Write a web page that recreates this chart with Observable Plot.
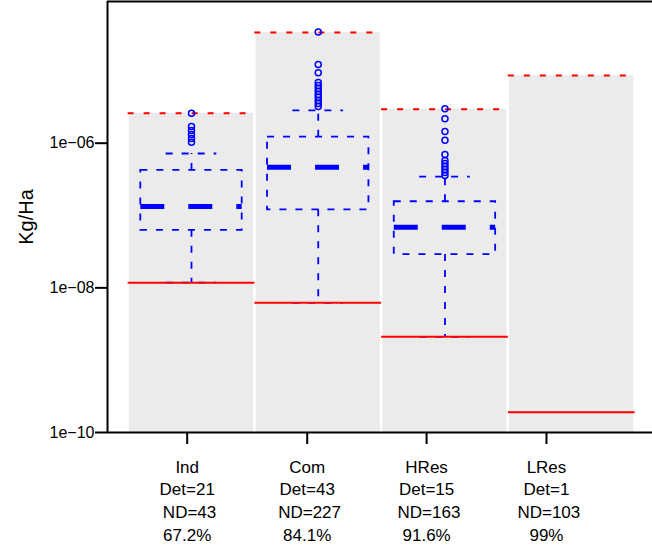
<!DOCTYPE html>
<html><head><meta charset="utf-8">
<script src="https://cdn.jsdelivr.net/npm/d3@7"></script>
<script src="https://cdn.jsdelivr.net/npm/@observablehq/plot@0.6"></script>
<style>
html,body{margin:0;padding:0;background:#fff;}
svg text{white-space:pre;}
</style></head><body><div id="chart"></div>
<script>
// ---- data ----
const categories = ["Ind", "Com", "HRes", "LRes"];
const positions = [1, 2, 3, 4];
const labelPositions = [0.966, 1.913, 2.855, 3.801];
const detected = [21, 43, 15, 1];
const nonDetected = [43, 227, 163, 103];
const percentND = ["67.2%", "84.1%", "91.6%", "99%"];
const maxValue = [2.6e-6, 3.4e-5, 2.95e-6, 8.65e-6];
const minValue = [1.18e-8, 6.2e-9, 2.1e-9, 1.9e-10];

const boxCategories = ["Ind", "Com", "HRes"];
const boxPositions = [1, 2, 3];
const whiskerLow = [1.18e-8, 6.2e-9, 2.1e-9];
const q1 = [6.25e-8, 1.2e-7, 2.88e-8];
const median = [1.33e-7, 4.66e-7, 6.88e-8];
const q3 = [4.2e-7, 1.21e-6, 1.55e-7];
const whiskerHigh = [7.2e-7, 2.84e-6, 3.46e-7];

const outliersInd = [2.6e-6, 1.7e-6, 1.5e-6, 1.32e-6, 1.16e-6, 1.03e-6];
const outliersCom = [3.44e-5, 1.22e-5, 9.4e-6, 6.9e-6, 6.3e-6, 5.7e-6, 5.2e-6, 4.7e-6, 4.3e-6, 3.9e-6, 3.54e-6, 3.22e-6];
const outliersHRes = [2.99e-6, 2.18e-6, 1.45e-6, 1.1e-6, 6.98e-7, 5.77e-7, 5.24e-7, 4.76e-7, 4.33e-7, 3.94e-7, 3.57e-7];

const yTicks = [1e-6, 1e-8, 1e-10];
const yTickLabels = ["1e\u221206", "1e\u221208", "1e\u221210"];
const yDomain = [1e-10, 9.1e-5];
const xDomain = [0.3372, 4.6376];

// ---- tables ----
const cats = categories.map((c, i) => ({cat: c, pos: positions[i], max: maxValue[i], min: minValue[i]}));
const boxes = boxCategories.map((c, i) => ({cat: c, pos: boxPositions[i], lo: whiskerLow[i], q1: q1[i], med: median[i], q3: q3[i], hi: whiskerHigh[i]}));
const outliers = [
  ...outliersInd.map(v => ({pos: 1, value: v})),
  ...outliersCom.map(v => ({pos: 2, value: v})),
  ...outliersHRes.map(v => ({pos: 3, value: v}))
];
const xLabels = categories.map((c, i) => `${c}\nDet=${detected[i]}\n ND=${nonDetected[i]}\n${percentND[i]}`);

const blue = "#0000ff", red = "#ff0000";
const barHalf = 0.49, lineHalf = 0.5, boxHalf = 0.4, capHalf = 0.2;
const blueDash = "7,9";

const chart = Plot.plot({
  width: 652, height: 555,
  marginTop: 1, marginBottom: 123, marginLeft: 107, marginRight: 0,
  style: {fontFamily: "'Liberation Sans', Arial, Helvetica, sans-serif", fontSize: "16px", color: "black", background: "white", overflow: "visible"},
  x: {type: "linear", domain: xDomain},
  y: {type: "log", domain: yDomain},
  marks: [
    Plot.rect(cats, {x1: d => d.pos - barHalf, x2: d => d.pos + barHalf, y1: () => yDomain[0], y2: "max", fill: "#ebebeb"}),
    Plot.ruleY(cats, {y: "max", x1: d => d.pos - lineHalf, x2: d => d.pos + lineHalf, stroke: red, strokeWidth: 2, strokeDasharray: "6,10"}),
    Plot.ruleX(boxes, {x: "pos", y1: "q3", y2: "hi", stroke: blue, strokeWidth: 1.8, strokeDasharray: blueDash}),
    Plot.ruleX(boxes, {x: "pos", y1: "q1", y2: "lo", stroke: blue, strokeWidth: 1.8, strokeDasharray: blueDash}),
    Plot.ruleY(boxes, {y: "hi", x1: d => d.pos - capHalf, x2: d => d.pos + capHalf, stroke: blue, strokeWidth: 1.8, strokeDasharray: blueDash}),
    Plot.ruleY(boxes, {y: "lo", x1: d => d.pos - capHalf, x2: d => d.pos + capHalf, stroke: blue, strokeWidth: 1.8, strokeDasharray: blueDash}),
    Plot.ruleY(cats, {y: "min", x1: d => d.pos - lineHalf, x2: d => d.pos + lineHalf, stroke: red, strokeWidth: 2}),
    Plot.rect(boxes, {x1: d => d.pos - boxHalf, x2: d => d.pos + boxHalf, y1: "q1", y2: "q3", fill: "none", stroke: blue, strokeWidth: 1.8, strokeDasharray: blueDash}),
    Plot.ruleY(boxes, {y: "med", x1: d => d.pos - boxHalf, x2: d => d.pos + boxHalf, stroke: blue, strokeWidth: 5, strokeDasharray: "24,24"}),
    Plot.dot(outliers, {x: "pos", y: "value", r: 3, stroke: blue, strokeWidth: 1.5, fill: "none"}),
    Plot.ruleX([xDomain[0]], {stroke: "black", strokeWidth: 2}),
    Plot.ruleY([yDomain[0]], {stroke: "black", strokeWidth: 2}),
    Plot.ruleY([yDomain[1]], {stroke: "black", strokeWidth: 2}),
    Plot.axisY({ticks: yTicks, tickFormat: d => yTickLabels[yTicks.indexOf(d)], tickSize: 12, tickPadding: 1, fontSize: 16, strokeWidth: 2, label: null}),
    Plot.axisX({ticks: labelPositions, tickFormat: d => xLabels[labelPositions.indexOf(d)], tickSize: 12, tickPadding: 12, fontSize: 17, lineHeight: 1.34, strokeWidth: 2, label: null}),
    Plot.text(["Kg/Ha"], {frameAnchor: "left", textAnchor: "middle", lineAnchor: "middle", dx: -81, rotate: -90, fontSize: 20, fill: "black"})
  ]
});
document.getElementById("chart").appendChild(chart);
</script></body></html>
